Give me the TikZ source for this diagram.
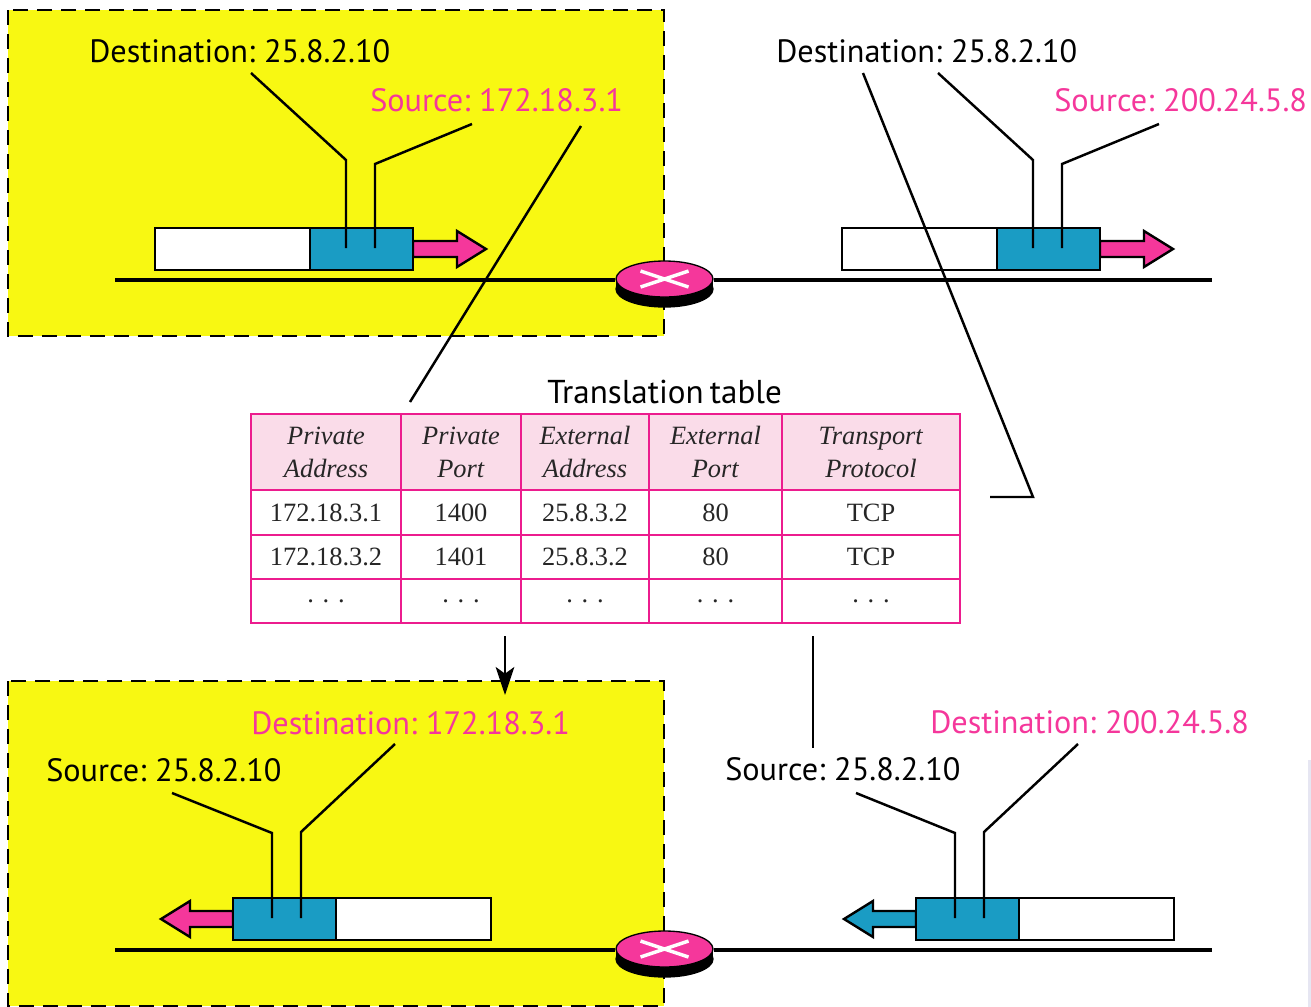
\documentclass[tikz,border=0pt]{standalone}
\usepackage{fontspec}
\setmainfont{Liberation Serif}
\newfontfamily\labelfont[WordSpace=0.7]{PT Sans}
\usetikzlibrary{shapes.geometric,arrows.meta}
\definecolor{zoneyellow}{HTML}{F8F812}
\definecolor{hotpink}{HTML}{F5379B}
\definecolor{rulepink}{HTML}{EC1C8E}
\definecolor{headpink}{HTML}{FADCE9}
\definecolor{pktblue}{HTML}{1A9CC4}
\definecolor{smudge}{HTML}{E6E6F2}
\def\px{0.75pt}
\tikzset{
  zone/.style={fill=zoneyellow,draw=black,line width=2pt,dash pattern=on 11.5pt off 6.5pt},
  lab/.style={anchor=west,inner sep=0pt,font=\labelfont\fontsize{24.2}{28}\selectfont,text=black},
  plab/.style={lab,text=hotpink},
  leader/.style={draw=black,line width=1.85pt},
  base/.style={draw=black,line width=2.5pt},
  pkt/.style={draw=black,line width=1.8pt,inner sep=0pt,outer sep=0pt,minimum height=42*\px,anchor=west},
  payload/.style={pkt,fill=white,minimum width=155*\px},
  header/.style={pkt,fill=pktblue,minimum width=103*\px},
  flow/.style={draw=black,line width=1.8pt,line join=miter},
  cell/.style={draw=rulepink,line width=1.3pt,inner sep=0pt,outer sep=0pt,anchor=north west,align=center,text=black!85,font=\fontsize{19.8}{24.75}\selectfont},
  rtop/.style={ellipse,fill=hotpink,draw=black,line width=1pt,inner sep=0pt,minimum width=97*\px,minimum height=36*\px},
  rbot/.style={ellipse,fill=black,draw=black,line width=1pt,inner sep=0pt,minimum width=97*\px,minimum height=36*\px},
}
% \cellbox{name}{x}{y}{w}{h}{fill}{text}
\newcommand{\cellbox}[7]{\node[cell,fill=#6,minimum width=#4*\px,minimum height=#5*\px] (#1) at (#2,#3) {#7};}
% \routerat{name}{x}{y}
\newcommand{\routerat}[3]{%
  \fill[black] (#2-48.5,#3) rectangle (#2+48.5,#3+10);
  \node[rbot] (#1b) at (#2,#3+10) {};
  \node[rtop] (#1) at (#2,#3) {};
  \draw[white,line width=2.6pt] (#2-24,#3-8) -- (#2+24,#3+8) (#2-24,#3+8) -- (#2+24,#3-8);
}
% \rightflow{x start}{y centre}{colour}
\newcommand{\rightflow}[3]{\draw[flow,fill=#3] (#1,#2-8) -- (#1+44,#2-8) -- (#1+44,#2-18) -- (#1+73,#2) -- (#1+44,#2+18) -- (#1+44,#2+8) -- (#1,#2+8) -- cycle;}
\newcommand{\leftflow}[3]{\draw[flow,fill=#3] (#1,#2-8) -- (#1-43,#2-8) -- (#1-43,#2-18) -- (#1-72,#2) -- (#1-43,#2+18) -- (#1-43,#2+8) -- (#1,#2+8) -- cycle;}
\begin{document}
\begin{tikzpicture}[x=0.75pt,y=-0.75pt]
\useasboundingbox (0,0) rectangle (1311,1007);
\fill[white] (0,0) rectangle (1311,1007);
\fill[smudge] (1308,760) rectangle (1311,1007);
% zones
\path[zone] (8,10) rectangle (664,336);
\path[zone] (8,681) rectangle (664,1006);

% top-left packet
\rightflow{413}{249}{hotpink}
\node[payload] (p1w) at (155,249) {};
\node[header] (p1b) at (310,249) {};
% top-right packet
\rightflow{1100}{249}{hotpink}
\node[payload] (p2w) at (842,249) {};
\node[header] (p2b) at (997,249) {};
% bottom-left packet
\leftflow{233}{919}{hotpink}
\node[header] (p3b) at (233,919) {};
\node[payload] (p3w) at (336,919) {};
% bottom-right packet
\leftflow{916}{919}{pktblue}
\node[header] (p4b) at (916,919) {};
\node[payload] (p4w) at (1019,919) {};

% networks
\coordinate (n1l) at (115,280); \coordinate (n1r) at (1212,280);
\coordinate (n2l) at (115,950); \coordinate (n2r) at (1212,950);
\routerat{r1}{664.5}{279}
\routerat{r2}{664.5}{949}
\draw[base] (n1l) -- (r1.west |- n1l);
\draw[base] (r1b.east |- n1r) -- (n1r);
\draw[base] (n2l) -- (r2.west |- n2l);
\draw[base] (r2b.east |- n2r) -- (n2r);

% labels
\node[lab] (t1) at (89,51.5) {Destination: 25.8.2.10};
\node[plab] (t2) at (370,100.5) {Source: 172.18.3.1};
\node[lab] (t3) at (776,51.5) {Destination: 25.8.2.10};
\node[plab] (t4) at (1054,100.5) {Source: 200.24.5.8};
\node[plab] (t5) at (251,723.5) {Destination: 172.18.3.1};
\node[lab] (t6) at (46,770.5) {Source: 25.8.2.10};
\node[plab] (t7) at (930,722.5) {Destination: 200.24.5.8};
\node[lab] (t8) at (725,769.5) {Source: 25.8.2.10};
\node[lab,font=\labelfont\fontsize{24.8}{28}\selectfont] (tt) at (547,391.5) {Translation table};

% leaders into packets
\coordinate (a1) at (251,73); \coordinate (a1k) at (346,160); \coordinate (a1e) at (346,248);
\coordinate (a2) at (472,124); \coordinate (a2k) at (375,164); \coordinate (a2e) at (375,248);
\coordinate (a3) at (938,73); \coordinate (a3k) at (1033,160); \coordinate (a3e) at (1033,248);
\coordinate (a4) at (1159,124); \coordinate (a4k) at (1062,164); \coordinate (a4e) at (1062,248);
\coordinate (a5) at (395,744); \coordinate (a5k) at (301,832); \coordinate (a5e) at (301,918);
\coordinate (a6) at (172,793); \coordinate (a6k) at (272,833); \coordinate (a6e) at (272,918);
\coordinate (a7) at (1078,744); \coordinate (a7k) at (984,832); \coordinate (a7e) at (984,918);
\coordinate (a8) at (856,793); \coordinate (a8k) at (955,833); \coordinate (a8e) at (955,918);
\foreach \n in {1,...,8} {\draw[leader] (a\n) -- (a\n k) -- (a\n e);}

% table
\cellbox{c11}{251}{414}{150}{76}{headpink}{\textit{Private}\\\textit{Address}}
\cellbox{c12}{401}{414}{120}{76}{headpink}{\textit{Private}\\\textit{Port}}
\cellbox{c13}{521}{414}{128}{76}{headpink}{\textit{External}\\\textit{Address}}
\cellbox{c14}{649}{414}{133}{76}{headpink}{\textit{External}\\\textit{Port}}
\cellbox{c15}{782}{414}{178}{76}{headpink}{\textit{Transport}\\\textit{Protocol}}
\cellbox{c21}{251}{490}{150}{45}{white}{172.18.3.1}
\cellbox{c22}{401}{490}{120}{45}{white}{1400}
\cellbox{c23}{521}{490}{128}{45}{white}{25.8.3.2}
\cellbox{c24}{649}{490}{133}{45}{white}{80}
\cellbox{c25}{782}{490}{178}{45}{white}{TCP}
\cellbox{c31}{251}{535}{150}{44}{white}{172.18.3.2}
\cellbox{c32}{401}{535}{120}{44}{white}{1401}
\cellbox{c33}{521}{535}{128}{44}{white}{25.8.3.2}
\cellbox{c34}{649}{535}{133}{44}{white}{80}
\cellbox{c35}{782}{535}{178}{44}{white}{TCP}
\cellbox{c41}{251}{579}{150}{44}{white}{.\,\,.\,\,.}
\cellbox{c42}{401}{579}{120}{44}{white}{.\,\,.\,\,.}
\cellbox{c43}{521}{579}{128}{44}{white}{.\,\,.\,\,.}
\cellbox{c44}{649}{579}{133}{44}{white}{.\,\,.\,\,.}
\cellbox{c45}{782}{579}{178}{44}{white}{.\,\,.\,\,.}

% long connectors
\coordinate (b1s) at (581,126); \coordinate (b1e) at (410,402);
\draw[leader] (b1s) -- (b1e);
\coordinate (b2s) at (863,73); \coordinate (b2k) at (1033,497); \coordinate (b2e) at (990,497);
\draw[leader] (b2s) -- (b2k) -- (b2e);
\coordinate (b3s) at (505,636); \coordinate (b3e) at (505,695);
\draw[leader,-{Stealth[length=21pt,width=14pt,inset=5pt]}] (b3s) -- (b3e);
\coordinate (b4s) at (813,636); \coordinate (b4e) at (813,748);
\draw[leader] (b4s) -- (b4e);
\end{tikzpicture}
\end{document}
